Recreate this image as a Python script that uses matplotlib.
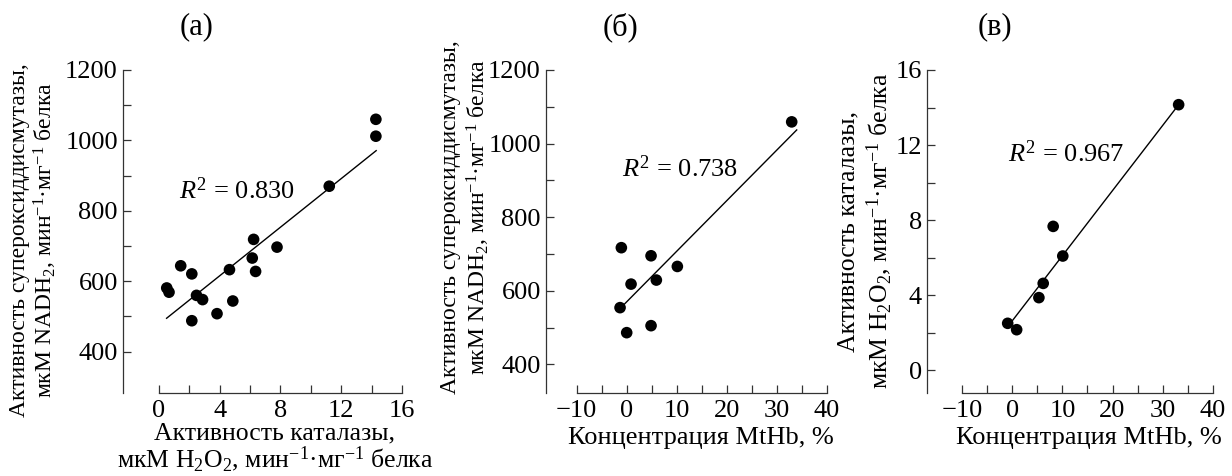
import numpy as np
import matplotlib
matplotlib.use("Agg")
import matplotlib.pyplot as plt
from matplotlib.ticker import FixedLocator

plt.rcParams["font.family"] = ["Liberation Serif", "DejaVu Serif"]
plt.rcParams["mathtext.fontset"] = "custom"
plt.rcParams["mathtext.rm"] = "Liberation Serif"
plt.rcParams["mathtext.it"] = "Liberation Serif:italic"

# (a) SOD activity vs catalase activity
cat_a = [14.28, 14.28, 11.21, 6.23, 7.77, 6.14, 6.36, 4.64, 1.43, 2.16, 0.51, 0.66, 2.47, 2.87, 4.86, 3.82, 2.16]
sod_a = [1060, 1012, 870, 719, 697, 666, 628, 633, 644, 621, 581, 569, 560, 548, 544, 508, 488]
fit_a_x = [0.5, 14.3]
fit_a_y = [495, 971]

# (б) SOD activity vs MtHb
mthb_b = [33.0, -1.07, 4.87, 10.13, 0.87, 5.93, -1.33, 4.87, 0.0]
sod_b = [1059, 717, 695, 666, 618, 629, 554, 505, 486]
fit_b_x = [-0.5, 34.0]
fit_b_y = [563, 1037]

# (в) catalase activity vs MtHb
mthb_c = [33.2, 8.15, 10.07, 6.16, 5.3, -0.93, 0.86]
cat_c = [14.15, 7.66, 6.08, 4.62, 3.86, 2.49, 2.15]
fit_c_x = [0.0, 33.0]
fit_c_y = [2.63, 14.08]

r2_labels = ["0.830", "0.738", "0.967"]
panel_titles = ["(а)", "(б)", "(в)"]

W, H = 1232, 476
fig = plt.figure(figsize=(W / 100, H / 100), dpi=100)


def px_axes(left, right, top, bottom):
    return fig.add_axes([left / W, 1 - bottom / H, (right - left) / W, (bottom - top) / H])


def style(ax, xlim, ylim, xbounds, xmaj, xmin, ymaj, ymin):
    ax.set_xlim(*xlim)
    ax.set_ylim(*ylim)
    for s in ("top", "right"):
        ax.spines[s].set_visible(False)
    for s in ("left", "bottom"):
        ax.spines[s].set_linewidth(0.9)
        ax.spines[s].set_color("#333333")
    ax.spines["bottom"].set_bounds(*xbounds)
    ax.xaxis.set_major_locator(FixedLocator(xmaj))
    ax.xaxis.set_minor_locator(FixedLocator(xmin))
    ax.yaxis.set_major_locator(FixedLocator(ymaj))
    ax.yaxis.set_minor_locator(FixedLocator(ymin))
    ax.tick_params(which="both", direction="in", length=6, width=0.9, color="#333333")
    ax.tick_params(axis="x", which="major", labelsize=19, pad=5)
    ax.tick_params(axis="y", which="major", labelsize=19, pad=3.5)


def draw(ax, x, y, fx, fy, r2, tx, ty):
    ax.scatter(x, y, s=70, color="black", edgecolors="none", clip_on=False, zorder=3)
    ax.plot(fx, fy, color="black", lw=1.0)
    ax.text(tx, ty, "$R^2$ = " + r2, fontsize=19, ha="left", va="center")


ax1 = px_axes(122.7, 402, 70, 392.7)
style(ax1, (-2.39, 16), (283.6, 1200), (0, 16),
      [0, 4, 8, 12, 16], [2, 6, 10, 14],
      [400, 600, 800, 1000, 1200], [500, 700, 900, 1100])
draw(ax1, cat_a, sod_a, fit_a_x, fit_a_y, r2_labels[0], 1.3, 858)

ax2 = px_axes(545.7, 826.7, 70, 392.7)
style(ax2, (-16.2, 40), (322.8, 1200), (-10, 40),
      [-10, 0, 10, 20, 30, 40], [-5, 5, 15, 25, 35],
      [400, 600, 800, 1000, 1200], [500, 700, 900, 1100])
draw(ax2, mthb_b, sod_b, fit_b_x, fit_b_y, r2_labels[1], -1.0, 933)

ax3 = px_axes(926.7, 1212.7, 70, 392.7)
style(ax3, (-17.1, 40), (-1.21, 16), (-10, 40),
      [-10, 0, 10, 20, 30, 40], [-5, 5, 15, 25, 35],
      [0, 4, 8, 12, 16], [2, 6, 10, 14])
draw(ax3, mthb_c, cat_c, fit_c_x, fit_c_y, r2_labels[2], -0.8, 11.52)

# panel titles
for t, xc in zip(panel_titles, [197, 620, 995]):
    fig.text(xc / W, 1 - 27 / H, t, fontsize=22, ha="center", va="center")

sod_label = "Активность супероксиддисмутазы,\nмкМ NADH$_2$, мин$^{-1}$·мг$^{-1}$ белка"
cat_label = "Активность каталазы,\nмкМ H$_2$O$_2$, мин$^{-1}$·мг$^{-1}$ белка"
mthb_label = "Концентрация MtHb, %"

lab = dict(ha="center", va="center", multialignment="center")
fig.text(34 / W, 1 - 240 / H, sod_label, rotation=90, fontsize=17, linespacing=1.06, **lab)
fig.text(466 / W, 1 - 217 / H, sod_label, rotation=90, fontsize=17, linespacing=1.14, **lab)
fig.text(866 / W, 1 - 231 / H, cat_label, rotation=90, fontsize=18.5, linespacing=1.2, **lab)
fig.text(275 / W, 1 - 448 / H, cat_label, fontsize=18.5, linespacing=0.97, **lab)
fig.text(701 / W, 1 - 438 / H, mthb_label, fontsize=19, **lab)
fig.text(1089 / W, 1 - 438 / H, mthb_label, fontsize=19, **lab)

fig.savefig("out.png", dpi=100)
